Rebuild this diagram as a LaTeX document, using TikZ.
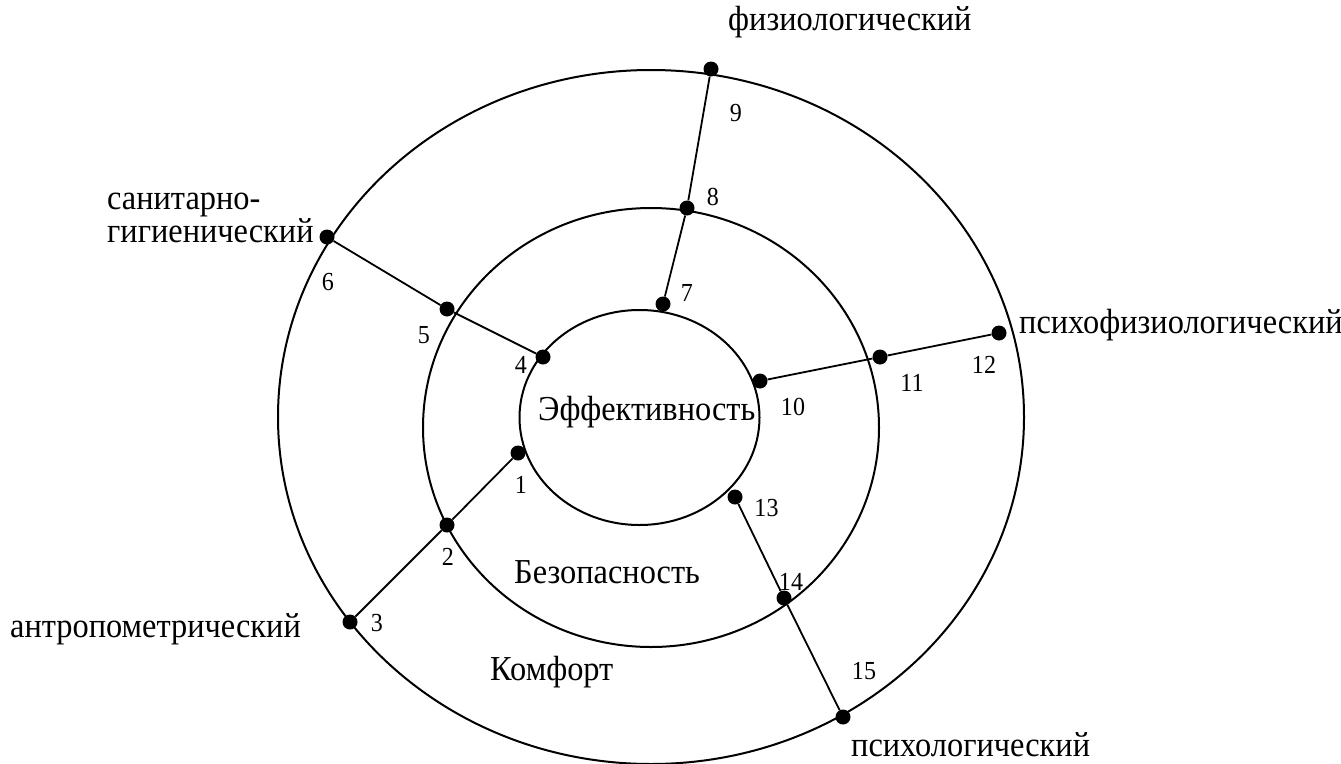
\documentclass[tikz,border=0pt]{standalone}
\usepackage{fontspec}
\setmainfont[FakeStretch=0.925]{Liberation Serif}
\begin{document}
\begin{tikzpicture}[x=1pt,y=-1pt,
  ring/.style={line width=2pt},
  link/.style={line width=1.8pt},
  pt/.style={circle,fill=black,draw=none,minimum size=15pt,inner sep=0pt},
  num/.style={font=\fontsize{26}{30}\selectfont,inner sep=0pt},
  lbl/.style={font=\fontsize{35}{40}\selectfont,inner sep=0pt,anchor=base west}]
\useasboundingbox (0,0) rectangle (1341,763);
\draw[ring] (651,417) ellipse [x radius=373pt, y radius=347pt];
\draw[ring] (651,427.5) ellipse [x radius=228pt, y radius=219.5pt];
\draw[ring] (639.5,417.5) ellipse [x radius=120pt, y radius=107.5pt];
% dots
\node[pt] (d1) at (518,453) {};
\node[pt] (d2) at (447,525) {};
\node[pt] (d3) at (350,622) {};
\node[pt] (d4) at (543,357) {};
\node[pt] (d5) at (447,309) {};
\node[pt] (d6) at (327,237) {};
\node[pt] (d7) at (663,304) {};
\node[pt] (d8) at (687,208) {};
\node[pt] (d9) at (711,69) {};
\node[pt] (d10) at (760,381) {};
\node[pt] (d11) at (880,357) {};
\node[pt] (d12) at (999,333) {};
\node[pt] (d13) at (735,497) {};
\node[pt] (d14) at (784,598) {};
\node[pt] (d15) at (843,717) {};
% connectors
\draw[link] (d1) -- (d2) -- (d3);
\draw[link] (d4) -- (d5) -- (d6);
\draw[link] (d7) -- (d8) -- (d9);
\draw[link] (d10) -- (d11) -- (d12);
\draw[link] (d13) -- (d14) -- (d15);
% numbers
\node[num] (n1) at (521,485) {1};
\node[num] (n2) at (448,557) {2};
\node[num] (n3) at (377,623) {3};
\node[num] (n4) at (521,365) {4};
\node[num] (n5) at (424,335) {5};
\node[num] (n6) at (328,282) {6};
\node[num] (n7) at (687,293) {7};
\node[num] (n8) at (713,197) {8};
\node[num] (n9) at (736,113) {9};
\node[num] (n10) at (793,407) {10};
\node[num] (n11) at (912,383) {11};
\node[num] (n12) at (984,365) {12};
\node[num] (n13) at (766.5,508) {13};
\node[num] (n14) at (791,582) {14};
\node[num] (n15) at (864,671) {15};
% labels
\node[lbl] (tfiz) at (728,30) {физиологический};
\node[lbl] (tsan1) at (107,209) {санитарно-};
\node[lbl] (tsan2) at (107,242) {гигиенический};
\node[lbl] (tpf) at (1019,333) {психофизиологический};
\node[lbl] (tantr) at (10,637) {антропометрический};
\node[lbl] (tpsy) at (851,756) {психологический};
\node[lbl] (teff) at (538,420) {Эффективность};
\node[lbl] (tbez) at (514,583) {Безопасность};
\node[lbl] (tkom) at (490,680) {Комфорт};
\end{tikzpicture}
\end{document}
